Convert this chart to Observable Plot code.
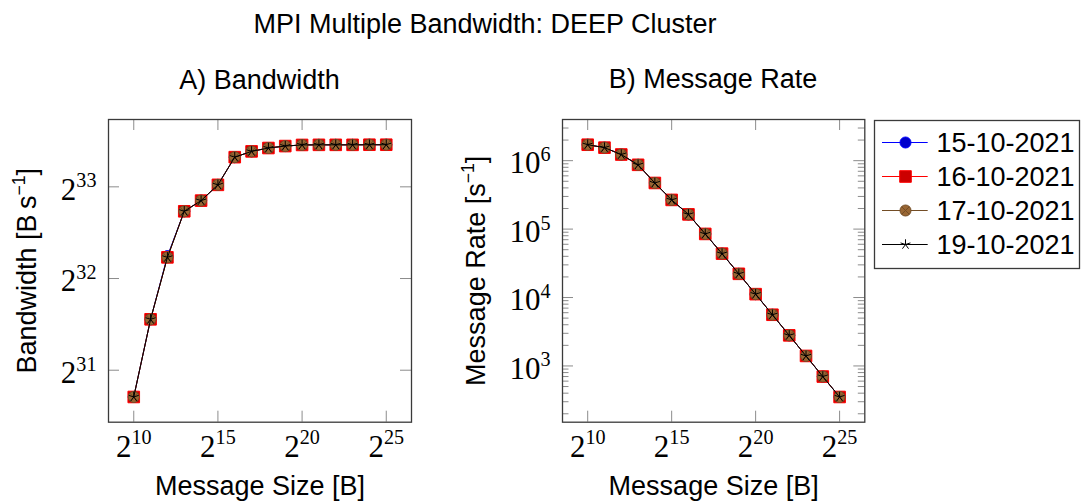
<!DOCTYPE html>
<html><head><meta charset="utf-8">
<script src="https://cdn.jsdelivr.net/npm/d3@7"></script>
<script src="https://cdn.jsdelivr.net/npm/@observablehq/plot@0.6"></script>
<style>
body{margin:0;background:#fff;}
#wrap{position:relative;width:1081px;height:501px;overflow:hidden;background:#fff;}
#wrap > svg{position:absolute;}
</style></head><body><div id="wrap"></div>
<script>
// ---------------- data ----------------
const sizes = [2**10, 2**11, 2**12, 2**13, 2**14, 2**15, 2**16, 2**17, 2**18, 2**19, 2**20, 2**21, 2**22, 2**23, 2**24, 2**25];
const series = ["15-10-2021", "16-10-2021", "17-10-2021", "19-10-2021"];

// Bandwidth [B/s]
const bw15 = [1.754e9, 3.155e9, 5.09e9, 7.14e9, 7.74e9, 8.72e9, 10.75e9, 11.23e9, 11.52e9, 11.69e9, 11.79e9, 11.80e9, 11.80e9, 11.80e9, 11.81e9, 11.81e9];
const bw16 = [1.754e9, 3.155e9, 5.04e9, 7.14e9, 7.74e9, 8.72e9, 10.75e9, 11.23e9, 11.52e9, 11.69e9, 11.79e9, 11.80e9, 11.80e9, 11.80e9, 11.81e9, 11.81e9];
const bw17 = [1.754e9, 3.155e9, 5.04e9, 7.14e9, 7.74e9, 8.72e9, 10.75e9, 11.23e9, 11.52e9, 11.69e9, 11.79e9, 11.80e9, 11.80e9, 11.80e9, 11.81e9, 11.81e9];
const bw19 = [1.754e9, 3.155e9, 5.04e9, 7.14e9, 7.74e9, 8.72e9, 10.75e9, 11.23e9, 11.52e9, 11.69e9, 11.79e9, 11.80e9, 11.80e9, 11.80e9, 11.81e9, 11.81e9];

// Message rate [1/s]
const rate15 = [1.71e6, 1.55e6, 1.23e6, 8.7e5, 4.72e5, 2.67e5, 1.64e5, 8.5e4, 4.38e4, 2.22e4, 1.12e4, 5.6e3, 2.8e3, 1.40e3, 700, 352];
const rate16 = [1.71e6, 1.55e6, 1.23e6, 8.7e5, 4.72e5, 2.67e5, 1.64e5, 8.5e4, 4.38e4, 2.22e4, 1.12e4, 5.6e3, 2.8e3, 1.40e3, 700, 352];
const rate17 = [1.71e6, 1.55e6, 1.23e6, 8.7e5, 4.72e5, 2.67e5, 1.64e5, 8.5e4, 4.38e4, 2.22e4, 1.12e4, 5.6e3, 2.8e3, 1.40e3, 700, 352];
const rate19 = [1.71e6, 1.55e6, 1.23e6, 8.7e5, 4.72e5, 2.67e5, 1.64e5, 8.5e4, 4.38e4, 2.22e4, 1.12e4, 5.6e3, 2.8e3, 1.40e3, 700, 352];

const xTicks = [2**10, 2**15, 2**20, 2**25];
const xTickLabels = ["2^{10}", "2^{15}", "2^{20}", "2^{25}"];
const bwTicks = [2**31, 2**32, 2**33];
const bwTickLabels = ["2^{31}", "2^{32}", "2^{33}"];
const rateTicks = [1e3, 1e4, 1e5, 1e6];
const rateTickLabels = ["10^{3}", "10^{4}", "10^{5}", "10^{6}"];

const figTitle = "MPI Multiple Bandwidth: DEEP Cluster";
const titleA = "A) Bandwidth";
const titleB = "B) Message Rate";
const xLabel = "Message Size [B]";
const yLabelA = "Bandwidth [B\u2009s^{\u22121}]";
const yLabelB = "Message Rate [s^{\u22121}]";

// ---------------- styles ----------------
const SANS = "'Liberation Sans', Arial, Helvetica, sans-serif";
const SERIF = "'Liberation Serif', 'Times New Roman', serif";
const FRAME = "#3a3a3a", TICK = "#8c8c8c";
const rOf = s => Math.sqrt(s / Math.PI);
const symCircle = {draw(c, s) { const r = rOf(s); c.moveTo(r, 0); c.arc(0, 0, r, 0, 2 * Math.PI); c.closePath(); }};
const symSquare = {draw(c, s) { const r = rOf(s); c.rect(-r, -r, 2 * r, 2 * r); }};
const symOtimes = {draw(c, s) { const r = rOf(s); c.moveTo(r, 0); c.arc(0, 0, r, 0, 2 * Math.PI); c.closePath();
  const k = r * Math.SQRT1_2; c.moveTo(-k, -k); c.lineTo(k, k); c.moveTo(k, -k); c.lineTo(-k, k); }};
const symStar = {draw(c, s) { const r = rOf(s); for (let i = 0; i < 5; i++) { const a = 2 * Math.PI * i / 5; c.moveTo(0, 0); c.lineTo(r * Math.sin(a), -r * Math.cos(a)); } }};
const styles = [
  {line: "#0000ff", fill: "#0000cc", mstroke: "#0000ff", symbol: symCircle, r: 5.5},
  {line: "#ff0000", fill: "#cc0000", mstroke: "#ff0000", symbol: symSquare, r: 5.8},
  {line: "#734d26", fill: "#996633", mstroke: "#734d26", symbol: symOtimes, r: 5.5},
  {line: "#000000", fill: "none", mstroke: "#000000", symbol: symStar, r: 5.2}
];

function enlarge(vals) {
  const l = vals.map(v => Math.log(v));
  const [a, b] = d3.extent(l);
  const p = (b - a) * 0.1;
  return [Math.exp(a - p), Math.exp(b + p)];
}

const NS = "http://www.w3.org/2000/svg";
function supify(svg) {
  svg.querySelectorAll("text").forEach(t => {
    const s = t.textContent;
    if (!s.includes("^{")) return;
    const fs = parseFloat(getComputedStyle(t).fontSize) || 27;
    const sup = fs * 0.65, rise = fs * 0.4;
    const parts = s.split(/(\^\{[^}]*\})/);
    t.textContent = "";
    let raised = false;
    for (const p of parts) {
      if (!p) continue;
      const ts = document.createElementNS(NS, "tspan");
      if (p.startsWith("^{")) {
        ts.textContent = p.slice(2, -1);
        ts.setAttribute("font-size", sup);
        ts.setAttribute("dy", -rise);
        raised = true;
      } else {
        ts.textContent = p;
        if (raised) { ts.setAttribute("dy", rise); raised = false; }
      }
      t.appendChild(ts);
    }
  });
}

function panel(ys, o) {
  const H = 501, top = 119, bottom = 79.3;
  const W = o.width - o.marginLeft - o.marginRight;
  const FH = H - top - bottom;
  const xDomain = enlarge(sizes);
  const yDomain = enlarge(ys.flat());
  const marks = [];
  // x ticks, bottom and top, inward
  marks.push(Plot.tickX(xTicks, {x: d => d, stroke: TICK, strokeWidth: 1, insetTop: FH - 11}));
  marks.push(Plot.tickX(xTicks, {x: d => d, stroke: TICK, strokeWidth: 1, insetBottom: FH - 11}));
  // y minor ticks
  if (o.yMinor) {
    marks.push(Plot.tickY(o.yMinor, {y: d => d, stroke: TICK, strokeWidth: 1, insetRight: W - 6.5}));
    marks.push(Plot.tickY(o.yMinor, {y: d => d, stroke: TICK, strokeWidth: 1, insetLeft: W - 6.5}));
  }
  marks.push(Plot.tickY(o.yTicks, {y: d => d, stroke: TICK, strokeWidth: 1, insetRight: W - 11}));
  marks.push(Plot.tickY(o.yTicks, {y: d => d, stroke: TICK, strokeWidth: 1, insetLeft: W - 11}));
  // series
  ys.forEach((vals, i) => {
    const st = styles[i];
    const rows = sizes.map((s, j) => ({size: s, value: vals[j]}));
    marks.push(Plot.line(rows, {x: "size", y: "value", stroke: st.line, strokeWidth: 1}));
    marks.push(Plot.dot(rows, {x: "size", y: "value", symbol: st.symbol, r: st.r, fill: st.fill, stroke: st.mstroke, strokeWidth: 1}));
  });
  // tick labels
  marks.push(Plot.text(xTickLabels, {x: (d, i) => xTicks[i], text: d => d, frameAnchor: "bottom", dy: 34.4, lineAnchor: "bottom", textAnchor: "middle", fontFamily: SERIF, fontSize: 31, fill: "#000"}));
  marks.push(Plot.text(o.yTickLabels, {y: (d, i) => o.yTicks[i], text: d => d, frameAnchor: "left", dx: -12, dy: 12.8, lineAnchor: "bottom", textAnchor: "end", fontFamily: SERIF, fontSize: 31, fill: "#000"}));
  // axis titles
  marks.push(Plot.text([xLabel], {text: d => d, frameAnchor: "bottom", dy: 72.8, lineAnchor: "bottom", textAnchor: "middle", fontFamily: SANS, fontSize: 27, fill: "#000"}));
  marks.push(Plot.text([o.yLabel], {text: d => d, frameAnchor: "left", rotate: -90, dx: o.yLabelDx, lineAnchor: "bottom", textAnchor: "middle", fontFamily: SANS, fontSize: 27, fill: "#000"}));
  marks.push(Plot.frame({stroke: FRAME, strokeWidth: 1.3}));
  const svg = Plot.plot({
    width: o.width, height: H,
    marginLeft: o.marginLeft, marginRight: o.marginRight, marginTop: top, marginBottom: bottom,
    x: {type: "log", domain: xDomain, axis: null},
    y: {type: "log", domain: yDomain, axis: null},
    style: {background: "transparent", overflow: "visible", maxWidth: "none"},
    marks
  });
  svg.style.left = o.left + "px";
  svg.style.top = "0px";
  return svg;
}

const wrap = document.getElementById("wrap");

// Titles (background layer)
const base = d3.create("svg").attr("width", 1081).attr("height", 501).style("left", "0px").style("top", "0px")
  .attr("font-family", SANS).attr("font-size", 27).attr("fill", "#000");
base.append("text").attr("x", 485).attr("y", 32.5).attr("text-anchor", "middle").text(figTitle);
base.append("text").attr("x", 259.5).attr("y", 88.8).attr("text-anchor", "middle").text(titleA);
base.append("text").attr("x", 713).attr("y", 88.3).attr("text-anchor", "middle").text(titleB);
wrap.appendChild(base.node());

// Panel A
const svgA = panel([bw15, bw16, bw17, bw19], {
  left: 0, width: 450, marginLeft: 108, marginRight: 39,
  yTicks: bwTicks, yTickLabels: bwTickLabels, yLabel: yLabelA, yLabelDx: -72.3
});
wrap.appendChild(svgA);

// Panel B
const rateAll = [rate15, rate16, rate17, rate19];
const rDom = enlarge(rateAll.flat());
const minorTicks = d3.scaleLog().domain(rDom).ticks().filter(v => !rateTicks.includes(v));
const svgB = panel(rateAll, {
  left: 450, width: 431, marginLeft: 112, marginRight: 16.7,
  yTicks: rateTicks, yTickLabels: rateTickLabels, yMinor: minorTicks, yLabel: yLabelB, yLabelDx: -77.7
});
wrap.appendChild(svgB);

// Legend
const legMarks = [];
series.forEach((name, i) => {
  const st = styles[i];
  legMarks.push(Plot.ruleY([name], {y: d => d, x1: 9, x2: 54.7, stroke: st.line, strokeWidth: 1}));
  legMarks.push(Plot.dot([name], {x: 32, y: d => d, symbol: st.symbol, r: st.r, fill: st.fill, stroke: st.mstroke, strokeWidth: 1}));
  legMarks.push(Plot.text([name], {x: 63, y: d => d, text: d => d, dy: 9, lineAnchor: "bottom", textAnchor: "start", fontFamily: SANS, fontSize: 27, fill: "#000"}));
});
legMarks.push(Plot.frame({inset: 1, stroke: FRAME, strokeWidth: 1.3}));
const legend = Plot.plot({
  width: 207, height: 150, margin: 0,
  x: {type: "identity", axis: null},
  y: {type: "point", domain: series, range: [22.7, 126.3], padding: 0, axis: null},
  style: {background: "transparent", overflow: "visible", maxWidth: "none"},
  marks: legMarks
});
legend.style.left = "873px";
legend.style.top = "119px";
wrap.appendChild(legend);

[svgA, svgB, legend].forEach(supify);
</script></body></html>
